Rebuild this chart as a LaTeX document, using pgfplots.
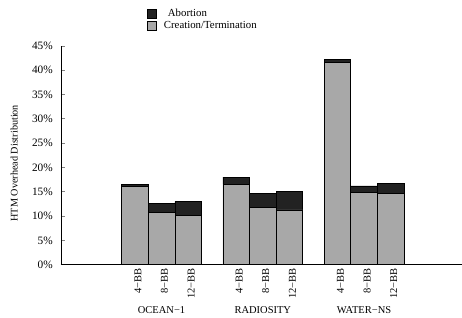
\documentclass[border=0pt]{standalone}
\usepackage{fontspec}
\setmainfont{Liberation Serif}
\usepackage{pgfplots}
\pgfplotsset{compat=1.18}
\definecolor{ctgray}{HTML}{A8A8A8}
\definecolor{abdark}{HTML}{222222}
\begin{document}
\fontsize{10.5bp}{12.5bp}\selectfont
\begin{tikzpicture}
\begin{axis}[
  scale only axis, width=401bp, height=219bp,
  ybar stacked, bar width=26.67bp,
  xmin=-2.775, xmax=12.26, ymin=0, ymax=45,
  axis x line=bottom, axis y line=left,
  axis line style={-, line width=0.8pt},
  ytick={0,5,...,45},
  /pgf/number format/assume math mode=true,
  yticklabel={\pgfmathprintnumber{\tick}\%},
  ytick style={line width=0.8pt},
  tick align=inside, major tick length=4.5bp,
  xtick={0,1,2,3.8,4.8,5.8,7.6,8.6,9.6},
  xticklabels={4−BB,8−BB,12−BB,4−BB,8−BB,12−BB,4−BB,8−BB,12−BB},
  xticklabel style={rotate=90, anchor=east, yshift=-3bp, font=\fontsize{10.5bp}{12bp}\selectfont},
  x tick style={draw=none},
  yticklabel style={xshift=-4.5bp, font=\fontsize{11.3bp}{12bp}\selectfont},
  ylabel={HTM Overhead Distribution},
  ylabel style={at={(axis description cs:-0.117,0.464)}, anchor=center, font=\fontsize{10.2bp}{12bp}\selectfont},
  clip=false,
  reverse legend,
  legend style={at={(0.2137,1.172)}, anchor=north west, draw=none, inner sep=0pt,
    font=\fontsize{10.8bp}{12bp}\selectfont, row sep=2bp,
    nodes={inner sep=0.6bp}},
  legend cell align=left,
  legend image code/.code={\draw[#1, draw=black, line width=0.6pt] (0bp,-4.3bp) rectangle (9.5bp,4.3bp);},
]
\addplot+[fill=ctgray, draw=black, line width=0.6pt] coordinates {
  (0,16.1) (1,10.75) (2,10.2)
  (3.8,16.6) (4.8,11.85) (5.8,11.3)
  (7.6,41.6) (8.6,14.9) (9.6,14.7)};
\addlegendentry{\hspace{6.5bp}Creation/Termination}
\addplot+[fill=abdark, draw=black, line width=0.6pt] coordinates {
  (0,0.5) (1,1.95) (2,2.8)
  (3.8,1.4) (4.8,2.75) (5.8,3.8)
  (7.6,0.7) (8.6,1.3) (9.6,2.0)};
\addlegendentry{\hspace{10.5bp}Abortion}
\node[anchor=base, font=\fontsize{10.5bp}{12bp}\selectfont] at ([yshift=-49bp]axis cs:1,0) {OCEAN−1};
\node[anchor=base, font=\fontsize{10.5bp}{12bp}\selectfont] at ([yshift=-49bp]axis cs:4.8,0) {RADIOSITY};
\node[anchor=base, font=\fontsize{10.5bp}{12bp}\selectfont] at ([yshift=-49bp]axis cs:8.6,0) {WATER−NS};
\path ([xshift=-61bp,yshift=-53bp]rel axis cs:0,0) ([yshift=46bp]rel axis cs:1,1);
\end{axis}
\end{tikzpicture}
\end{document}
